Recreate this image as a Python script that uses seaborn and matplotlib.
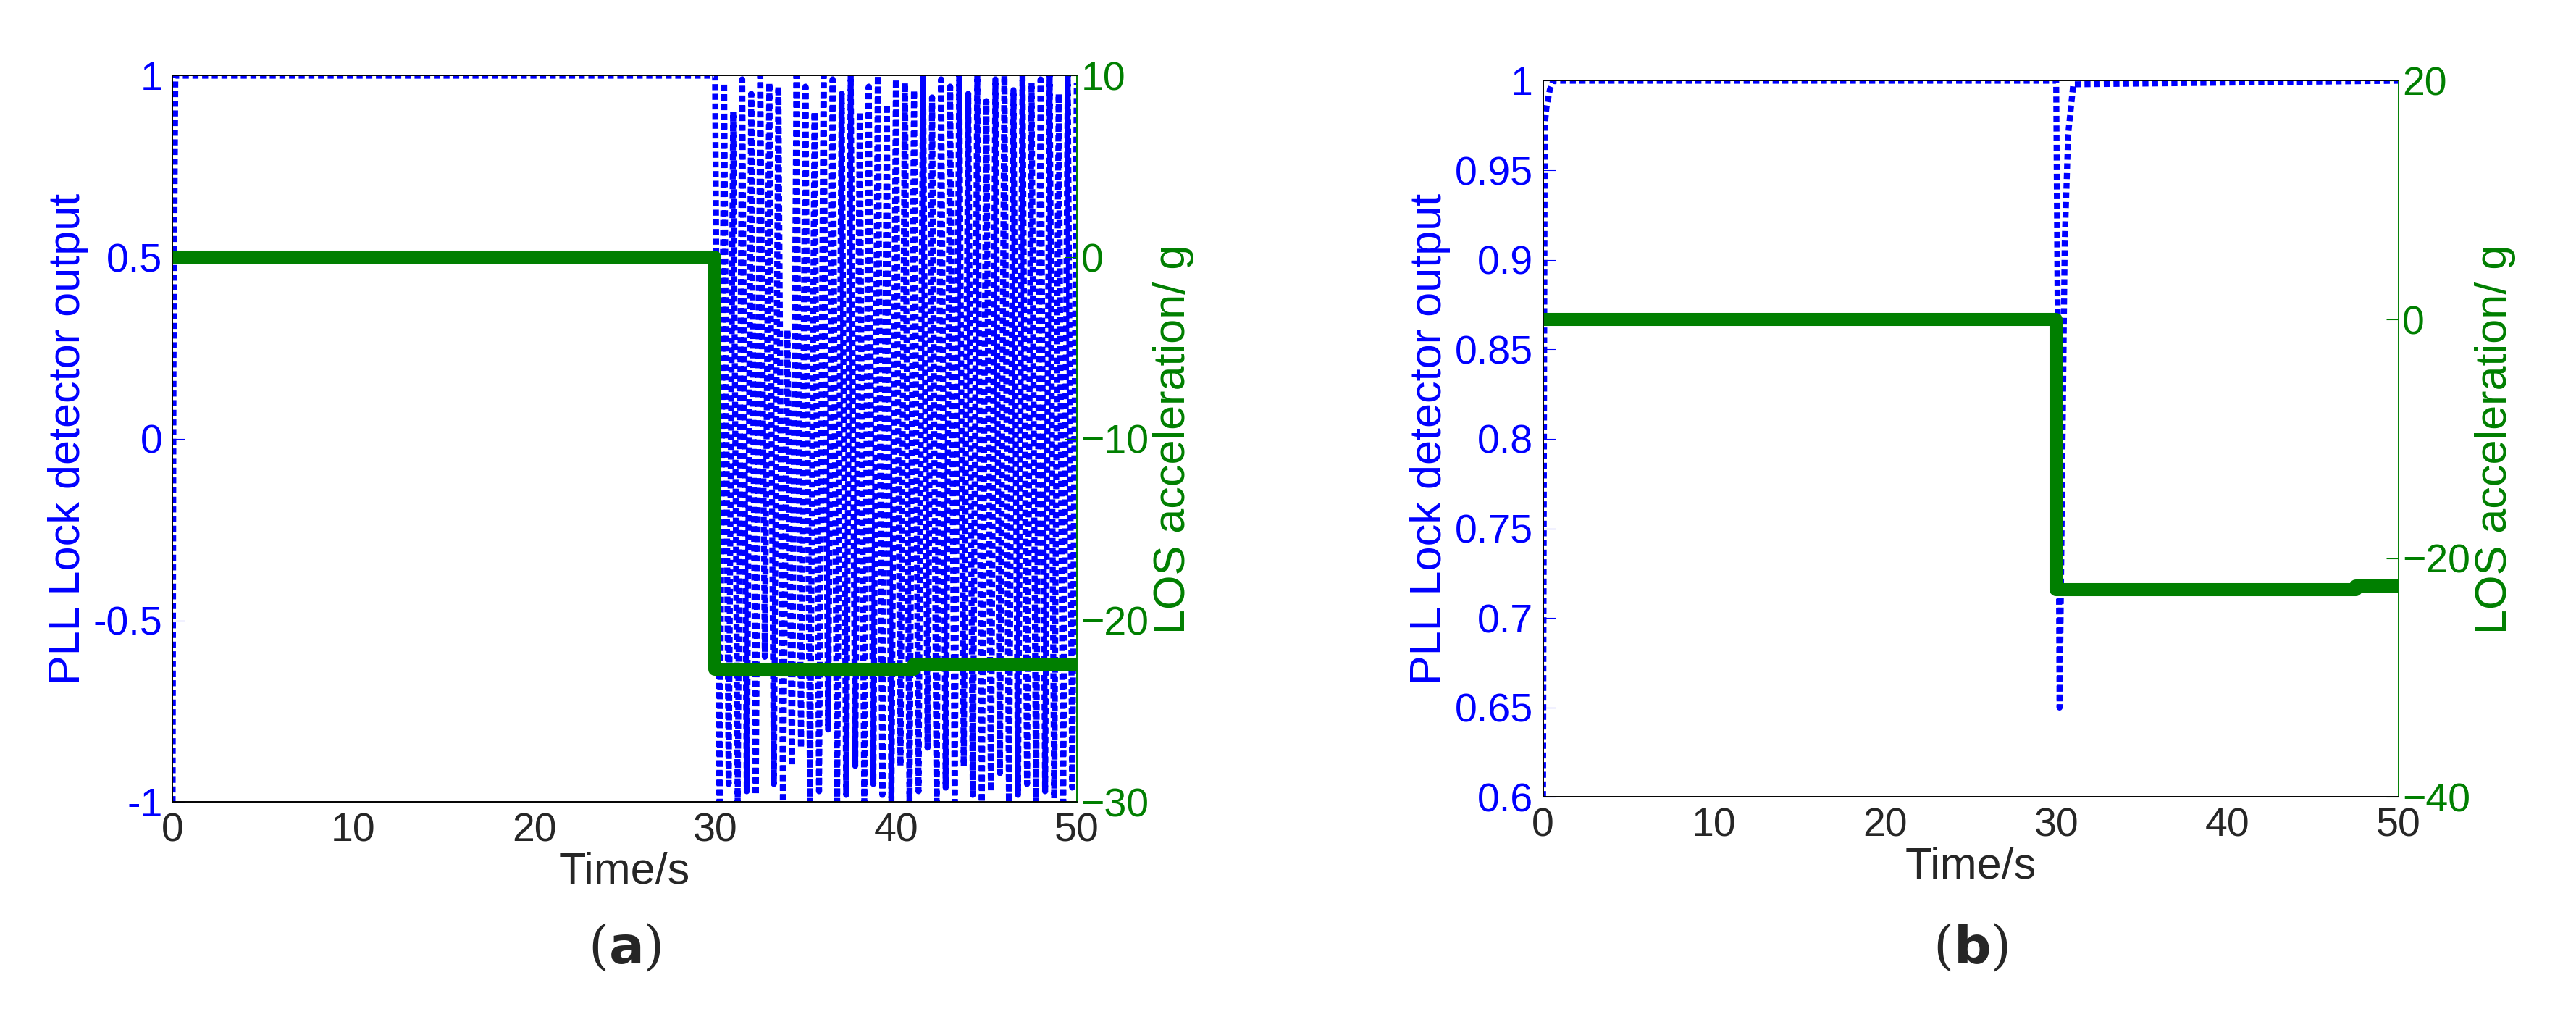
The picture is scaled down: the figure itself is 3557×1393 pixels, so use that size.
import matplotlib
matplotlib.use("Agg")
import matplotlib.pyplot as plt
import seaborn as sns
import pandas as pd
import numpy as np

sns.set_style("white")
plt.rcParams['font.family'] = ['Liberation Sans', 'DejaVu Sans']

# Panel (a) data
a_blue_t = [0, 0.05, 0.15, 30.0] + [30 + 0.25 * i for i in range(1, 81)]
a_blue_v = [-1, 0.2, 1, 1,
            -1, 0.98, -0.95, 0.9, -1, 0.99, -0.97, 0.95, -0.98, 1, -0.6, 0.98,
            -0.95, 0.97, -1, 0.3, -0.9, 1, -0.85, 0.97, -1, 0.9, -0.97, 1, -0.8, 0.99,
            -1, 0.95, -0.98, 1, -0.9, 0.9, -1, 0.97, -0.95, 1, -0.98, 0.92, -1, 0.99,
            -0.9, 0.98, -1, 0.96, -0.97, 1, -0.85, 0.94, -1, 0.99, -0.96, 0.97, -1, 1,
            -0.9, 0.95, -0.98, 1, -1, 0.93, -0.97, 0.99, -0.92, 1, -1, 0.96, -0.98, 1,
            -0.95, 0.98, -1, 0.99, -0.97, 1, -0.99, 0.95, -1, 1, -0.96, 0.98]
a_green_t = [0, 30, 30, 41, 41, 50]
a_green_v = [0, 0, -22.7, -22.7, -22.4, -22.4]

# Panel (b) data
b_blue_t = [0, 0.1, 0.2, 0.4, 0.6, 30.0, 30.1, 30.2, 30.35, 30.5, 30.7, 31.0, 50]
b_blue_v = [0.6, 0.975, 0.985, 0.995, 1.0, 1.0, 0.85, 0.65, 0.78, 0.91, 0.97, 0.998, 1.0]
b_green_t = [0, 30, 30, 47.5, 47.5, 50]
b_green_v = [0, 0, -22.6, -22.6, -22.3, -22.3]

x_ticks = [0, 10, 20, 30, 40, 50]

BLUE = "#0000FF"
GREEN = "#007F00"
FS = 40

fig = plt.figure(figsize=(35.57, 13.93), dpi=100)

def panel(rect, bt, bv, gt, gv, ylim_l, yticks_l, ylim_r, yticks_r, caption):
    ax = fig.add_axes(rect)
    sns.lineplot(x=bt, y=bv, ax=ax, color=BLUE, linewidth=6, linestyle=(0, (1, 0.6)),
                 sort=False, estimator=None)
    ax.set_xlim(0, 50)
    ax.set_ylim(*ylim_l)
    ax.set_xticks(x_ticks)
    ax.set_yticks(yticks_l)
    ax.set_yticklabels(['%g' % v for v in yticks_l], color=BLUE)
    ax.tick_params(direction='in', length=12, labelsize=FS, pad=10)
    ax.tick_params(axis='y', colors=BLUE, labelcolor=BLUE)
    ax.set_xlabel("Time/s", fontsize=FS + 4, labelpad=2)
    ax.set_ylabel("PLL Lock detector output", fontsize=FS + 4, color=BLUE)
    ax2 = ax.twinx()
    sns.lineplot(x=gt, y=gv, ax=ax2, color=GREEN, linewidth=13, sort=False, estimator=None)
    ax2.set_ylim(*ylim_r)
    ax2.set_yticks(yticks_r)
    ax2.tick_params(direction='in', length=12, labelsize=FS, colors=GREEN, pad=4)
    ax2.set_ylabel("LOS acceleration/ g", fontsize=FS + 4, color=GREEN)
    for a in (ax, ax2):
        for s in a.spines.values():
            s.set_linewidth(1.2)
            s.set_color('black')
        a.spines['right'].set_color(GREEN)
    cx = rect[0] + rect[2] / 2
    fig.text(cx, 0.06, "(" + r"$\mathbf{" + caption + "}$" + ")", ha='center', va='center',
             fontsize=52, family='serif')
    return ax

panel([0.067, 0.205, 0.351, 0.72], a_blue_t, a_blue_v, a_green_t, a_green_v,
      (-1, 1), [-1, -0.5, 0, 0.5, 1], (-30, 10), [-30, -20, -10, 0, 10], "a")
panel([0.599, 0.21, 0.332, 0.71], b_blue_t, b_blue_v, b_green_t, b_green_v,
      (0.6, 1), [0.6, 0.65, 0.7, 0.75, 0.8, 0.85, 0.9, 0.95, 1], (-40, 20), [-40, -20, 0, 20], "b")

fig.savefig("out.png", dpi=100)
